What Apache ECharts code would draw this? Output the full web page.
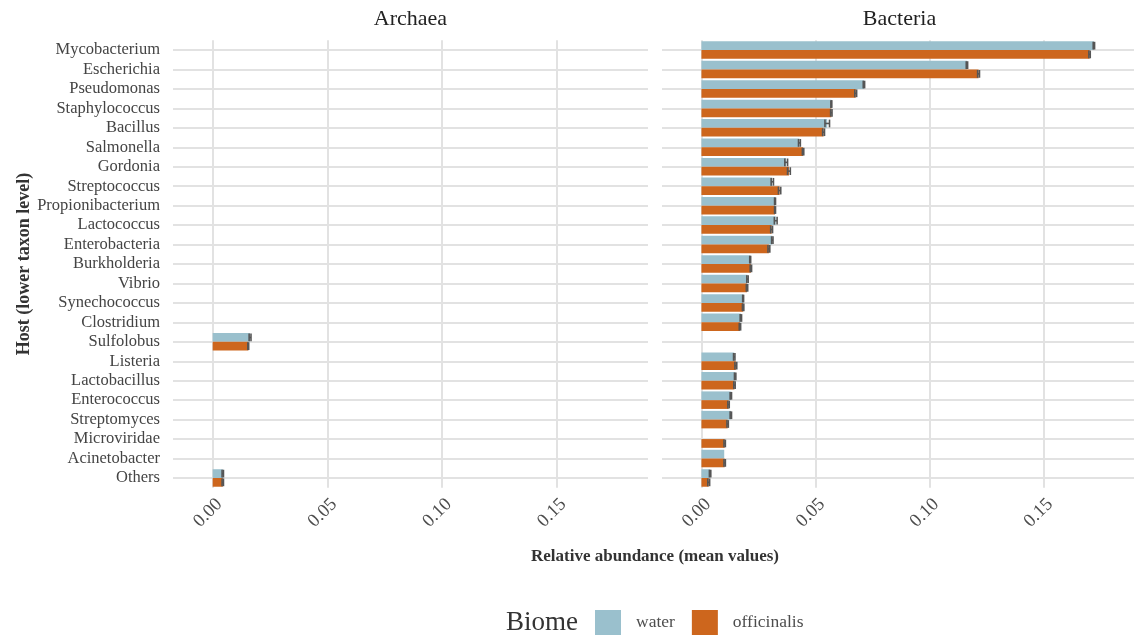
<!DOCTYPE html>
<html>
<head>
<meta charset="utf-8">
<script src="https://cdn.jsdelivr.net/npm/echarts@6/dist/echarts.min.js"></script>
<style>
  html, body { margin: 0; padding: 0; background: #ffffff; }
  #chart { width: 1134px; height: 639px; }
</style>
</head>
<body>
<div id="chart"></div>
<script>
// Host genera, top to bottom
const hosts = ['Mycobacterium', 'Escherichia', 'Pseudomonas', 'Staphylococcus', 'Bacillus',
  'Salmonella', 'Gordonia', 'Streptococcus', 'Propionibacterium', 'Lactococcus',
  'Enterobacteria', 'Burkholderia', 'Vibrio', 'Synechococcus', 'Clostridium', 'Sulfolobus',
  'Listeria', 'Lactobacillus', 'Enterococcus', 'Streptomyces', 'Microviridae',
  'Acinetobacter', 'Others'];

const panels = ['Archaea', 'Bacteria'];
const biomes = ['water', 'officinalis'];
const tickValues = [0, 0.05, 0.10, 0.15];

// Mean relative abundance per host (null = not present in that domain)
const archaeaWater = [null, null, null, null, null, null, null, null, null, null, null, null,
  null, null, null, 0.0163, null, null, null, null, null, null, 0.0044];
const archaeaOfficinalis = [null, null, null, null, null, null, null, null, null, null, null, null,
  null, null, null, 0.0155, null, null, null, null, null, null, 0.0044];
const bacteriaWater = [0.1722, 0.1165, 0.0713, 0.0570, 0.0552, 0.0430, 0.0372, 0.0311, 0.0323,
  0.0326, 0.0311, 0.0214, 0.0202, 0.0183, 0.0173, null, 0.0144, 0.0148, 0.0129, 0.0129,
  null, 0.0100, 0.0038];
const bacteriaOfficinalis = [0.1703, 0.1216, 0.0677, 0.0570, 0.0536, 0.0446, 0.0384, 0.0343,
  0.0323, 0.0308, 0.0296, 0.0217, 0.0200, 0.0183, 0.0169, null, 0.0151, 0.0145, 0.0119,
  0.0115, 0.0102, 0.0102, 0.0032];

// Standard errors of the means
const archaeaWaterSe = [null, null, null, null, null, null, null, null, null, null, null, null,
  null, null, null, 0.0004, null, null, null, null, null, null, 0.0003];
const archaeaOfficinalisSe = [null, null, null, null, null, null, null, null, null, null, null, null,
  null, null, null, 0.0002, null, null, null, null, null, null, 0.0003];
const bacteriaWaterSe = [0.0003, 0.0003, 0.0003, 0.0002, 0.0010, 0.0004, 0.0006, 0.0005, 0.0002,
  0.0006, 0.0003, 0.0002, 0.0003, 0.0002, 0.0003, null, 0.0003, 0.0003, 0.0003, 0.0003,
  null, null, 0.0003];
const bacteriaOfficinalisSe = [0.0003, 0.0004, 0.0004, 0.0003, 0.0004, 0.0003, 0.0006, 0.0005,
  0.0002, 0.0004, 0.0004, 0.0003, 0.0003, 0.0003, 0.0003, null, 0.0004, 0.0003, 0.0003,
  0.0003, 0.0003, 0.0003, 0.0004];

const COLORS = { water: '#9AC0CD', officinalis: '#CD661D' };
const GRID_COLOR = '#e2e2e2';
const SERIF = "'Liberation Serif', 'DejaVu Serif', serif";

const panelLeft = [173, 662];
const panelWidth = 475;
const panelTop = 40.3;
const panelHeight = 447.4;

const values = [[archaeaWater, archaeaOfficinalis], [bacteriaWater, bacteriaOfficinalis]];
const errors = [[archaeaWaterSe, archaeaOfficinalisSe], [bacteriaWaterSe, bacteriaOfficinalisSe]];

// Horizontal error bar (mean ± se) centred on one dodged bar
function errorBarRenderer(side) {
  return function (params, api) {
    const v = api.value(0), c = api.value(1), se = api.value(2);
    const band = api.size([0, 1])[1];
    const lo = api.coord([v - se, c]);
    const hi = api.coord([v + se, c]);
    const y = lo[1] + side * band * 0.225;
    const half = band * 0.45 / 2 - 0.5;
    const style = { stroke: '#555555', lineWidth: 1.6 };
    return {
      type: 'group',
      children: [
        { type: 'line', shape: { x1: lo[0], y1: y, x2: hi[0], y2: y }, style },
        { type: 'line', shape: { x1: lo[0], y1: y - half, x2: lo[0], y2: y + half }, style },
        { type: 'line', shape: { x1: hi[0], y1: y - half, x2: hi[0], y2: y + half }, style }
      ]
    };
  };
}

const grids = [], xAxes = [], yAxes = [], series = [];
panels.forEach((p, i) => {
  grids.push({ left: panelLeft[i], top: panelTop, width: panelWidth, height: panelHeight });
  xAxes.push({
    type: 'value', gridIndex: i, min: -0.0173, max: 0.1898,
    axisLine: { show: false, onZero: false },
    axisTick: { show: false, customValues: tickValues },
    splitLine: { show: true, lineStyle: { color: GRID_COLOR, width: 2 } },
    axisLabel: {
      customValues: tickValues, rotate: 45, margin: 7, verticalAlign: 'top',
      formatter: v => v.toFixed(2),
      fontFamily: SERIF, fontSize: 18.5, color: '#4d4d4d'
    }
  });
  yAxes.push({
    type: 'category', gridIndex: i, data: hosts, inverse: true,
    axisLine: { show: false, onZero: false },
    axisTick: {
      show: true, inside: true, length: panelWidth, alignWithLabel: true, interval: 0,
      lineStyle: { color: GRID_COLOR, width: 2 }
    },
    splitLine: { show: false },
    axisLabel: {
      show: i === 0, interval: 0, margin: 13,
      fontFamily: SERIF, fontSize: 16.5, color: '#444444'
    }
  });
  biomes.forEach((b, j) => {
    series.push({
      name: b, type: 'bar', xAxisIndex: i, yAxisIndex: i,
      data: values[i][j],
      barCategoryGap: '10%', barGap: '0%',
      itemStyle: { color: COLORS[b] },
      emphasis: { disabled: true }
    });
  });
  biomes.forEach((b, j) => {
    const data = [];
    values[i][j].forEach((v, k) => {
      const se = errors[i][j][k];
      if (v != null && se != null) data.push([v, k, se]);
    });
    series.push({
      name: b + ' error', type: 'custom', xAxisIndex: i, yAxisIndex: i,
      renderItem: errorBarRenderer(j === 0 ? -1 : 1),
      data: data, z: 5, silent: true
    });
  });
});

const chart = echarts.init(document.getElementById('chart'), null, { renderer: 'canvas' });
chart.setOption({
  animation: false,
  backgroundColor: '#ffffff',
  grid: grids,
  xAxis: xAxes,
  yAxis: yAxes,
  series: series,
  legend: {
    data: biomes, left: 595, top: 610, padding: 0,
    itemWidth: 26, itemHeight: 25, itemGap: 17, icon: 'rect',
    textStyle: { fontFamily: SERIF, fontSize: 17.5, color: '#4d4d4d', padding: [0, 0, 0, 10] }
  },
  graphic: [
    { type: 'text', x: panelLeft[0] + panelWidth / 2, y: 19,
      style: { text: panels[0], font: '22px ' + SERIF, fill: '#222222', align: 'center', verticalAlign: 'middle' } },
    { type: 'text', x: panelLeft[1] + panelWidth / 2, y: 19,
      style: { text: panels[1], font: '22px ' + SERIF, fill: '#222222', align: 'center', verticalAlign: 'middle' } },
    { type: 'text', x: 655, y: 557,
      style: { text: 'Relative abundance (mean values)', font: 'bold 17px ' + SERIF, fill: '#333333', align: 'center', verticalAlign: 'middle' } },
    { type: 'text', x: 24, y: 264, rotation: Math.PI / 2,
      style: { text: 'Host (lower taxon level)', font: 'bold 18px ' + SERIF, fill: '#333333', align: 'center', verticalAlign: 'middle' } },
    { type: 'text', x: 506, y: 623,
      style: { text: 'Biome', font: '27px ' + SERIF, fill: '#333333', align: 'left', verticalAlign: 'middle' } }
  ]
});
</script>
</body>
</html>
